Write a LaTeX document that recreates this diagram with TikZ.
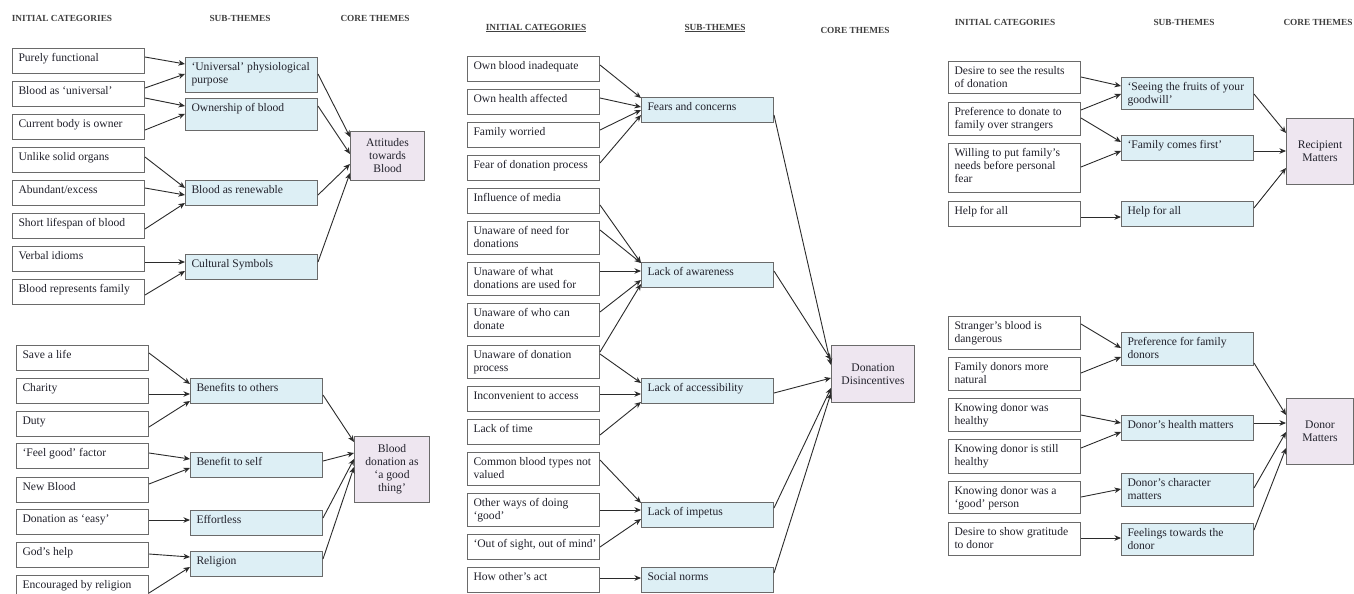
\documentclass[tikz,border=0pt]{standalone}
\usepackage{fontspec}
\setmainfont{Liberation Serif}
\usetikzlibrary{arrows.meta}
\definecolor{bd}{HTML}{6A6A6A}
\definecolor{subfill}{HTML}{DDEFF5}
\definecolor{corefill}{HTML}{EEE6F0}
\definecolor{ink}{HTML}{22222C}
\definecolor{hdr}{HTML}{404040}
\definecolor{arrowc}{HTML}{2B2B2B}
\newcommand{\bodyfont}{\fontsize{11.6}{13}\selectfont}
\newcommand{\hdrfont}{\fontsize{9.3}{11}\selectfont\bfseries}
\newcommand{\tb}[2]{\parbox[c][#1pt][t]{120pt}{\raggedright\strut #2}}
\newcommand{\ar}[4]{\draw[arr] (#1.east |- 0,#2) -- (#3.west |- 0,#4);}
\tikzset{
  cat/.style={draw=bd, line width=1pt, fill=white, anchor=north west, inner xsep=6pt, inner ysep=4pt, font=\bodyfont, text=ink},
  sub/.style={cat, fill=subfill},
  core/.style={draw=bd, line width=1pt, fill=corefill, anchor=north west, inner sep=0pt, align=center, font=\bodyfont, text=ink},
  hd/.style={font=\hdrfont, text=hdr, inner sep=0pt},
  arr/.style={draw=arrowc, line width=0.9pt, -{Stealth[length=6.5pt,width=5.5pt,inset=2pt]}}
}
\begin{document}
\begin{tikzpicture}[x=1pt,y=-1pt]
\useasboundingbox[fill=white] (0,0) rectangle (1354,594);

% ---------------- headers ----------------
\node[hd] (h1a) at (62,18) {INITIAL CATEGORIES};
\node[hd] (h1b) at (240,18) {SUB-THEMES};
\node[hd] (h1c) at (375,18) {CORE THEMES};
\node[hd] (h2a) at (536,28) {\underline{INITIAL CATEGORIES}};
\node[hd] (h2b) at (715,28) {\underline{SUB-THEMES}};
\node[hd] (h2c) at (855,30) {CORE THEMES};
\node[hd] (h3a) at (1005,22) {INITIAL CATEGORIES};
\node[hd] (h3b) at (1184,22) {SUB-THEMES};
\node[hd] (h3c) at (1318,22) {CORE THEMES};

% ---------------- panel 1 top ----------------
\node[cat] (c1a) at (12,48) {\tb{16.5}{Purely functional}};
\node[cat] (c1b) at (12,81) {\tb{16.5}{Blood as ‘universal’}};
\node[cat] (c1c) at (12,114) {\tb{16.5}{Current body is owner}};
\node[cat] (c1d) at (12,147) {\tb{16.5}{Unlike solid organs}};
\node[cat] (c1e) at (12,180) {\tb{16.5}{Abundant/excess}};
\node[cat] (c1f) at (12,213) {\tb{16.5}{Short lifespan of blood}};
\node[cat] (c1g) at (12,246) {\tb{16.5}{Verbal idioms}};
\node[cat] (c1h) at (12,279) {\tb{16.5}{Blood represents family}};
\node[sub] (s1a) at (185,57) {\tb{27}{‘Universal’ physiological\\purpose}};
\node[sub] (s1b) at (185,98) {\tb{24}{Ownership of blood}};
\node[sub] (s1c) at (185,180) {\tb{16.5}{Blood as renewable}};
\node[sub] (s1d) at (185,254) {\tb{16.5}{Cultural Symbols}};
\node[core, minimum width=74pt, minimum height=49pt] (k1) at (350,131) {Attitudes\\towards\\Blood};
\ar{c1a}{57}{s1a}{64}
\ar{c1b}{88}{s1a}{74}
\ar{c1b}{98}{s1b}{106}
\ar{c1c}{130}{s1b}{114}
\ar{c1d}{157}{s1c}{188}
\ar{c1e}{188}{s1c}{195}
\ar{c1f}{229}{s1c}{203}
\ar{c1g}{262}{s1d}{262}
\ar{c1h}{295}{s1d}{271}
\ar{s1a}{74}{k1}{137}
\ar{s1b}{106}{k1}{154}
\ar{s1c}{195}{k1}{164}
\ar{s1d}{262}{k1}{173}

% ---------------- panel 1 bottom ----------------
\node[cat] (c2a) at (16,345) {\tb{16.5}{Save a life}};
\node[cat] (c2b) at (16,378) {\tb{16.5}{Charity}};
\node[cat] (c2c) at (16,411) {\tb{16.5}{Duty}};
\node[cat] (c2d) at (16,443) {\tb{16.5}{‘Feel good’ factor}};
\node[cat] (c2e) at (16,477) {\tb{16.5}{New Blood}};
\node[cat] (c2f) at (16,509) {\tb{16.5}{Donation as ‘easy’}};
\node[cat] (c2g) at (16,542) {\tb{16.5}{God’s help}};
\node[cat] (c2h) at (16,575) {\tb{16.5}{Encouraged by religion}};
\node[sub] (s2a) at (190,378) {\tb{16.5}{Benefits to others}};
\node[sub] (s2b) at (190,452) {\tb{16.5}{Benefit to self}};
\node[sub] (s2c) at (190,510) {\tb{16.5}{Effortless}};
\node[sub] (s2d) at (190,551) {\tb{16.5}{Religion}};
\node[core, minimum width=75pt, minimum height=66pt] (k2) at (354,436) {Blood\\donation as\\‘a good\\thing’};
\ar{c2a}{353}{s2a}{384}
\ar{c2b}{394}{s2a}{394}
\ar{c2c}{427}{s2a}{401}
\ar{c2d}{453}{s2b}{459}
\ar{c2e}{484}{s2b}{468}
\ar{c2f}{520}{s2c}{520}
\ar{c2g}{554}{s2d}{557}
\ar{c2h}{593}{s2d}{567}
\ar{s2a}{395}{k2}{442}
\ar{s2b}{461}{k2}{453}
\ar{s2c}{518}{k2}{459}
\ar{s2d}{559}{k2}{467}

% ---------------- panel 2 ----------------
\node[cat] (c3a) at (467,56) {\tb{16.5}{Own blood inadequate}};
\node[cat] (c3b) at (467,89) {\tb{16.5}{Own health affected}};
\node[cat] (c3c) at (467,122) {\tb{16.5}{Family worried}};
\node[cat] (c3d) at (467,155) {\tb{16.5}{Fear of donation process}};
\node[cat] (c3e) at (467,188) {\tb{16.5}{Influence of media}};
\node[cat] (c3f) at (467,221) {\tb{25}{Unaware of need for\\donations}};
\node[cat] (c3g) at (467,262) {\tb{25}{Unaware of what\\donations are used for}};
\node[cat] (c3h) at (467,303) {\tb{25}{Unaware of who can\\donate}};
\node[cat] (c3i) at (467,345) {\tb{25}{Unaware of donation\\process}};
\node[cat] (c3j) at (467,386) {\tb{16.5}{Inconvenient to access}};
\node[cat] (c3k) at (467,419) {\tb{16.5}{Lack of time}};
\node[cat] (c3l) at (467,452) {\tb{25}{Common blood types not\\valued}};
\node[cat] (c3m) at (467,493) {\tb{25}{Other ways of doing\\‘good’}};
\node[cat] (c3n) at (467,534) {\tb{16.5}{\mbox{‘Out of sight, out of mind’}}};
\node[cat] (c3o) at (467,567) {\tb{16.5}{How other’s act}};
\node[sub] (s3a) at (641,97) {\tb{16.5}{Fears and concerns}};
\node[sub] (s3b) at (641,262) {\tb{16.5}{Lack of awareness}};
\node[sub] (s3c) at (641,378) {\tb{16.5}{Lack of accessibility}};
\node[sub] (s3d) at (641,502) {\tb{16.5}{Lack of impetus}};
\node[sub] (s3e) at (641,567) {\tb{16.5}{Social norms}};
\node[core, minimum width=83pt, minimum height=57pt] (k3) at (831,345) {Donation\\Disincentives};
\ar{c3a}{65}{s3a}{98}
\ar{c3b}{98}{s3a}{107}
\ar{c3c}{130}{s3a}{110}
\ar{c3d}{163}{s3a}{115}
\ar{c3e}{205}{s3b}{263}
\ar{c3f}{230}{s3b}{263}
\ar{c3g}{271}{s3b}{271}
\ar{c3h}{312}{s3b}{280}
\ar{c3i}{352}{s3b}{284}
\ar{c3i}{354}{s3c}{383}
\ar{c3j}{394}{s3c}{394}
\ar{c3k}{435}{s3c}{402}
\ar{c3l}{460}{s3d}{503}
\ar{c3m}{510}{s3d}{510}
\ar{c3n}{547}{s3d}{519}
\ar{c3o}{578}{s3e}{578}
\ar{s3a}{115}{k3}{365}
\ar{s3b}{271}{k3}{360}
\ar{s3c}{393}{k3}{378}
\ar{s3d}{508}{k3}{388}
\ar{s3e}{573}{k3}{393}

% ---------------- panel 3 top ----------------
\node[cat] (c4a) at (948,61) {\tb{24}{Desire to see the results\\of donation}};
\node[cat] (c4b) at (948,102) {\tb{25}{Preference to donate to\\family over strangers}};
\node[cat] (c4c) at (948,143) {\tb{41}{Willing to put family’s\\needs before personal\\fear}};
\node[cat] (c4d) at (948,201) {\tb{16.5}{Help for all}};
\node[sub] (s4a) at (1121,77) {\tb{24}{‘Seeing the fruits of your\\goodwill’}};
\node[sub] (s4b) at (1121,135) {\tb{16.5}{‘Family comes first’}};
\node[sub] (s4c) at (1121,201) {\tb{16.5}{Help for all}};
\node[core, minimum width=67pt, minimum height=66pt] (k4) at (1286,118) {Recipient\\Matters};
\ar{c4a}{77}{s4a}{86}
\ar{c4b}{110}{s4a}{94}
\ar{c4b}{118}{s4b}{142}
\ar{c4c}{167}{s4b}{151}
\ar{c4d}{217}{s4c}{217}
\ar{s4a}{94}{k4}{133}
\ar{s4b}{151}{k4}{151}
\ar{s4c}{208}{k4}{168}

% ---------------- panel 3 bottom ----------------
\node[cat] (c5a) at (948,316) {\tb{25}{Stranger’s blood is\\dangerous}};
\node[cat] (c5b) at (948,357) {\tb{25}{Family donors more\\natural}};
\node[cat] (c5c) at (948,398) {\tb{25}{Knowing donor was\\healthy}};
\node[cat] (c5d) at (948,439) {\tb{26}{Knowing donor is still\\healthy}};
\node[cat] (c5e) at (948,481) {\tb{24}{Knowing donor was a\\‘good’ person}};
\node[cat] (c5f) at (948,522) {\tb{25}{Desire to show gratitude\\to donor}};
\node[sub] (s5a) at (1121,332) {\tb{25}{Preference for family\\donors}};
\node[sub] (s5b) at (1121,415) {\tb{16.5}{Donor’s health matters}};
\node[sub] (s5c) at (1121,473) {\tb{25}{Donor’s character\\matters}};
\node[sub] (s5d) at (1121,523) {\tb{24}{Feelings towards the\\donor}};
\node[core, minimum width=67pt, minimum height=66pt] (k5) at (1286,398) {Donor\\Matters};
\ar{c5a}{324}{s5a}{348}
\ar{c5b}{373}{s5a}{357}
\ar{c5c}{415}{s5b}{423}
\ar{c5d}{448}{s5b}{432}
\ar{c5e}{497}{s5c}{489}
\ar{c5f}{538}{s5d}{538}
\ar{s5a}{363}{k5}{415}
\ar{s5b}{423}{k5}{423}
\ar{s5c}{488}{k5}{432}
\ar{s5d}{530}{k5}{448}
\end{tikzpicture}
\end{document}
